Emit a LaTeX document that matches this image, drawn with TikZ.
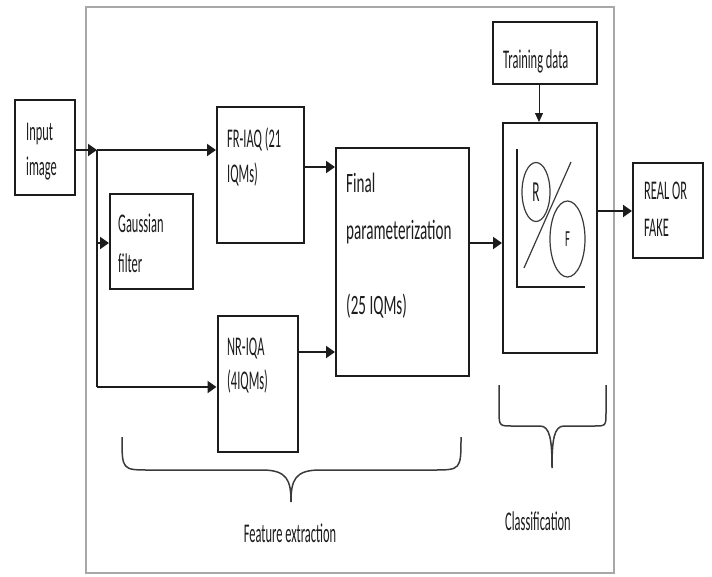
\documentclass[tikz,border=0pt]{standalone}
\usepackage{fontspec}
\setmainfont{Carlito}[FakeStretch=0.46]
\newfontfamily\bigfont{Carlito}[FakeStretch=0.54]
\usetikzlibrary{arrows.meta,shapes.geometric}
\definecolor{ink}{HTML}{1C1C1C}
\definecolor{frame}{HTML}{A8A8A8}
\definecolor{brace}{HTML}{3A3A3A}
\tikzset{
  box/.style={draw=ink, line width=2pt, rectangle, inner sep=0pt},
  lbl/.style={text=ink, inner sep=0pt, anchor=base west, font=\fontsize{27}{32}\selectfont},
  biglbl/.style={text=ink, inner sep=0pt, anchor=base west, font=\bigfont\fontsize{28}{32}\selectfont},
  conn/.style={draw=ink, line width=2pt},
  arr/.style={conn, -{Triangle[length=9pt,width=12pt]}},
  thinarr/.style={draw=ink, line width=1pt, -{Triangle[length=9pt,width=8pt]}},
  bracestyle/.style={draw=brace, line width=1.5pt},
  oval/.style={draw=brace, line width=1.2pt, ellipse, inner sep=0pt},
}
\begin{document}
\begin{tikzpicture}[x=1pt,y=-1pt]
\useasboundingbox (0,0) rectangle (712,576);
% outer frame
\draw[frame, line width=1.5pt] (86,7) rectangle (614,573);

% boxes
\node[box, minimum width=60pt, minimum height=95pt] (input) at (45,147.5) {};
\node[box, minimum width=83pt, minimum height=95pt] (gauss) at (151.5,241.5) {};
\node[box, minimum width=87pt, minimum height=136pt] (fr) at (260.5,175) {};
\node[box, minimum width=80pt, minimum height=136pt] (nr) at (257.5,383.5) {};
\node[box, minimum width=133pt, minimum height=228pt] (final) at (402.5,262) {};
\node[box, minimum width=104pt, minimum height=62pt] (train) at (545,53) {};
\node[box, minimum width=94pt, minimum height=230pt] (clf) at (550,238) {};
\node[box, minimum width=70pt, minimum height=95pt] (out) at (668,210.5) {};

% texts
\node[lbl] (tInput1) at (26,140) {Input};
\node[lbl] (tInput2) at (26,175) {image};
\node[lbl] (tGauss1) at (118,232) {Gaussian};
\node[lbl] (tGauss2) at (118,272) {filter};
\node[lbl] (tFr1) at (227,147) {FR-IAQ (21};
\node[lbl] (tFr2) at (227,182) {IQMs)};
\node[lbl] (tNr1) at (227,355) {NR-IQA};
\node[lbl] (tNr2) at (227,389) {(4IQMs)};
\node[biglbl] (tFin1) at (346,192) {Final};
\node[biglbl] (tFin2) at (346,239) {parameterization};
\node[biglbl] (tFin3) at (346,314) {(25 IQMs)};
\node[lbl] (tTrain) at (503,68) {Training data};
\node[lbl] (tOut1) at (644,199) {REAL OR};
\node[lbl] (tOut2) at (644,236) {FAKE};
\node[lbl, anchor=base] (tFeat) at (290,542) {Feature extraction};
\node[lbl, anchor=base] (tClass) at (538,530) {Classification};

% classifier inner sketch
\coordinate (axTop) at (517,149);
\coordinate (axCorner) at (517,287);
\coordinate (axRight) at (585,287);
\draw[conn] (axTop) -- (axCorner) -- (axRight);
\coordinate (diagA) at (571,162);
\coordinate (diagB) at (524,268);
\draw[draw=brace, line width=1.2pt] (diagA) -- (diagB);
\node[oval, minimum width=28pt, minimum height=59pt, text=ink, font=\fontsize{29}{30}\selectfont] (rcls) at (536,192) {R};
\node[oval, minimum width=35pt, minimum height=76pt, text=ink, font=\fontsize{23}{24}\selectfont] (fcls) at (567.5,239) {F};

% connectors
\coordinate (j1) at (97,150);
\coordinate (j2) at (97,243);
\coordinate (j3) at (97,387);
\draw[arr] (input.east |- j1) -- (j1);
\draw[arr] (j1) -- (fr.west |- j1);
\draw[conn] (j1) -- (j3);
\draw[arr] (j2) -- (gauss.west |- j2);
\draw[arr] (j3) -- (nr.west |- j3);
\coordinate (a1) at (304,167);
\draw[arr] (fr.east |- a1) -- (final.west |- a1);
\coordinate (a2) at (298,352);
\draw[arr] (nr.east |- a2) -- (final.west |- a2);
\coordinate (a3) at (469,243);
\draw[arr] (final.east |- a3) -- (clf.west |- a3);
\draw[thinarr] (train.south -| 539,0) -- (clf.north -| 539,0);
\coordinate (a4) at (597,211);
\draw[arr] (clf.east |- a4) -- (out.west |- a4);

% braces
\draw[bracestyle] (122,437) .. controls (122,470) and (122,470) .. (150,470)
  -- (262,470) .. controls (287,470) and (291,480) .. (291,502)
  .. controls (291,480) and (295,470) .. (320,470)
  -- (432,470) .. controls (461,470) and (461,470) .. (461,437);
\draw[bracestyle] (499,385) -- (499,412) .. controls (499,426) and (500,426) .. (512,426)
  -- (540,426) .. controls (550,426) and (552,440) .. (552,468)
  .. controls (552,440) and (554,426) .. (564,426)
  -- (594,426) .. controls (606,426) and (606,426) .. (606,412) -- (606,385);
\end{tikzpicture}
\end{document}
